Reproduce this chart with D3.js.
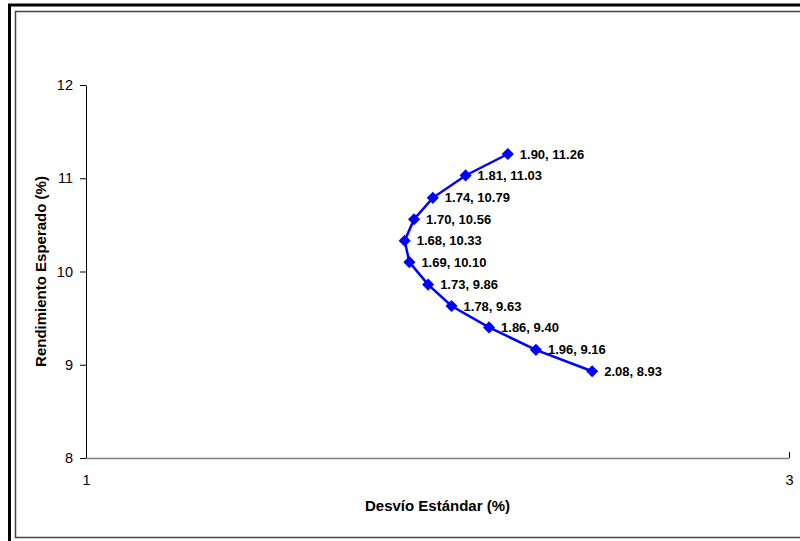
<!DOCTYPE html>
<html>
<head>
<meta charset="utf-8">
<script src="https://cdn.jsdelivr.net/npm/d3@7"></script>
<style>
  html, body { margin: 0; padding: 0; background: #fff; }
  svg { display: block; font-family: "Liberation Sans", Arial, sans-serif; }
</style>
</head>
<body>
<svg id="chart" width="800" height="541"></svg>
<script>
// Efficient-frontier points: standard deviation (%) vs expected return (%)
const desvio = [1.90, 1.81, 1.74, 1.70, 1.68, 1.69, 1.73, 1.78, 1.86, 1.96, 2.08];
const rendimiento = [11.26, 11.03, 10.79, 10.56, 10.33, 10.10, 9.86, 9.63, 9.40, 9.16, 8.93];

const xTickValues = [1, 2.5];
const xTickLabels = ["1", "3"];
const yTickValues = [8, 9, 10, 11, 12];

const svg = d3.select("#chart");

// Outer frame: heavy outline with a thin inner rule
svg.append("path")
  .attr("d", "M9.5,541 L9.5,5 L800,5")
  .attr("fill", "none").attr("stroke", "#000").attr("stroke-width", 3);
svg.append("path")
  .attr("d", "M800,11.5 L15.5,11.5 L15.5,537.5 L800,537.5")
  .attr("fill", "none").attr("stroke", "#444").attr("stroke-width", 1.5);

const x = d3.scaleLinear().domain([1, 2.5]).range([86, 789]);
const y = d3.scaleLinear().domain([8, 12]).range([458, 85]);

// Y axis (ticks outward)
const yAxis = svg.append("g")
  .attr("transform", `translate(${x(1)},0)`)
  .call(d3.axisLeft(y).tickValues(yTickValues).tickFormat(d3.format("d"))
    .tickSize(6).tickSizeOuter(0).tickPadding(7));
yAxis.select(".domain").attr("stroke", "#000").attr("stroke-width", 1);
yAxis.selectAll(".tick line").attr("stroke", "#000");
yAxis.selectAll(".tick text").attr("font-size", 14.5).attr("fill", "#000")
  .attr("font-family", "Liberation Sans, Arial, sans-serif");

// X axis (grey baseline, ticks inward)
const xAxis = svg.append("g")
  .attr("transform", `translate(0,${y(8)})`)
  .call(d3.axisBottom(x).tickValues(xTickValues)
    .tickFormat((d, i) => xTickLabels[i]).tickSizeInner(-6).tickSizeOuter(0).tickPadding(17));
xAxis.select(".domain").attr("stroke", "#808080").attr("stroke-width", 1.5);
xAxis.selectAll(".tick line").attr("stroke", "#000");
xAxis.selectAll(".tick text").attr("font-size", 14.5).attr("fill", "#000")
  .attr("font-family", "Liberation Sans, Arial, sans-serif");

// Axis titles
svg.append("text")
  .attr("x", (x(1) + x(2.5)) / 2).attr("y", 511)
  .attr("text-anchor", "middle").attr("font-size", 15).attr("font-weight", "bold")
  .text("Desvío Estándar (%)");
svg.append("text")
  .attr("transform", `translate(46,${(y(8) + y(12)) / 2}) rotate(-90)`)
  .attr("text-anchor", "middle").attr("font-size", 15).attr("font-weight", "bold")
  .text("Rendimiento Esperado (%)");

const pts = desvio.map((d, i) => ({ sd: d, r: rendimiento[i] }));

// Frontier line
svg.append("path")
  .datum(pts)
  .attr("fill", "none").attr("stroke", "#0000FF").attr("stroke-width", 2.5)
  .attr("d", d3.line().x(d => x(d.sd)).y(d => y(d.r)));

// Diamond markers
svg.append("g").selectAll("path")
  .data(pts).join("path")
  .attr("transform", d => `translate(${x(d.sd)},${y(d.r)}) rotate(45)`)
  .attr("d", "M-4.3,-4.3 L4.3,-4.3 L4.3,4.3 L-4.3,4.3 Z")
  .attr("fill", "#0000FF");

// Point labels
svg.append("g").selectAll("text")
  .data(pts).join("text")
  .attr("x", d => x(d.sd) + 12).attr("y", d => y(d.r) + 4.5)
  .attr("font-size", 13).attr("font-weight", "bold").attr("fill", "#000")
  .text(d => `${d.sd.toFixed(2)}, ${d.r.toFixed(2)}`);
</script>
</body>
</html>
